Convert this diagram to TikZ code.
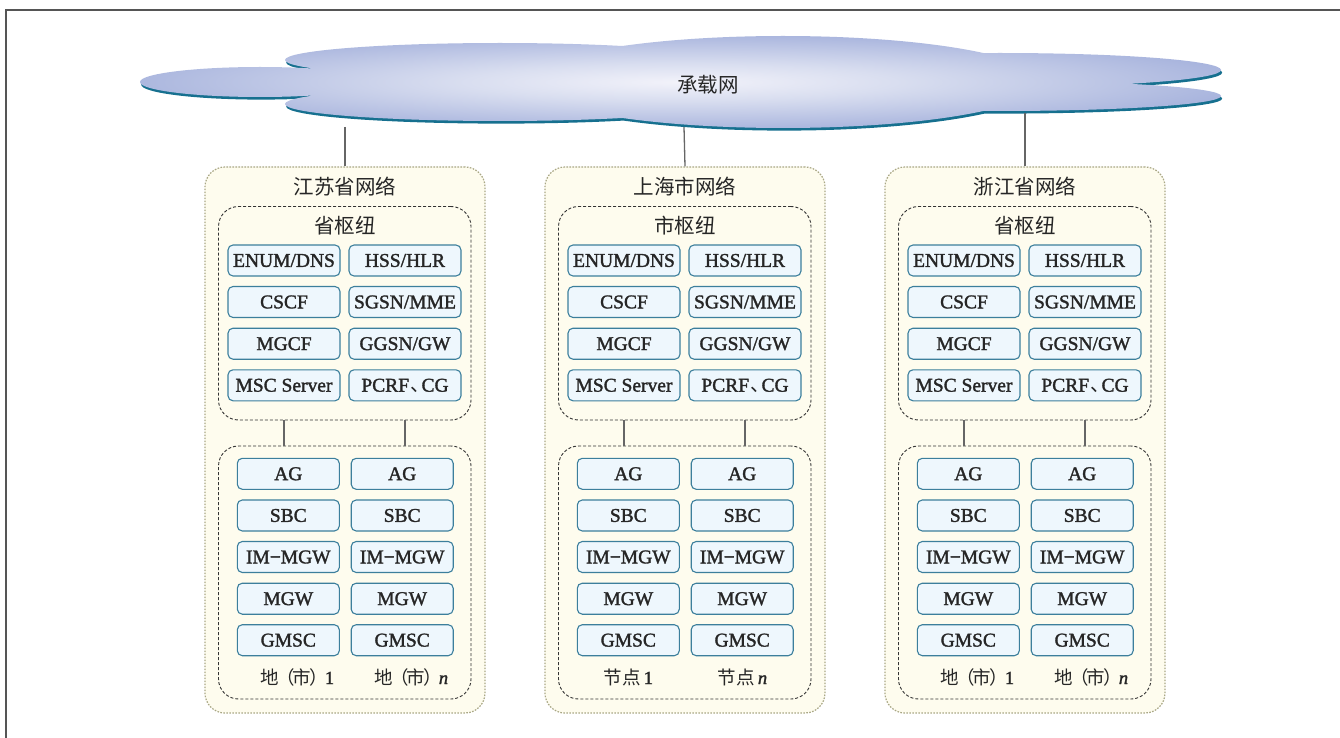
\documentclass[tikz,border=0pt]{standalone}
\usepackage{fontspec}
\setmainfont{Liberation Serif}[FakeBold=1.6]
\newfontfamily\cjk{Noto Sans CJK SC}
\definecolor{cream}{HTML}{FEFCEE}
\definecolor{outerdraw}{HTML}{A9A785}
\definecolor{innerdraw}{HTML}{333333}
\definecolor{elemfill}{HTML}{EEF7FD}
\definecolor{elemdraw}{HTML}{3C7F9C}
\definecolor{txt}{HTML}{262626}
\definecolor{cloudshadow}{HTML}{16708F}
\definecolor{framecol}{HTML}{555555}
\definecolor{conncol}{HTML}{666666}
\pgfdeclareradialshading{cloudsh}{\pgfpoint{0bp}{0bp}}{rgb(0bp)=(0.95,0.95,0.98); rgb(10bp)=(0.85,0.87,0.94); rgb(28bp)=(0.64,0.69,0.86); rgb(50bp)=(0.45,0.52,0.77); rgb(100bp)=(0.45,0.52,0.77)}
\tikzset{
  frameline/.style={draw=framecol, line width=1.4pt},
  conn/.style={draw=conncol, line width=1.3pt},
  outerbox/.style={draw=outerdraw, fill=cream, line width=1.2pt, dash pattern=on 1.6pt off 1.4pt, rounded corners=20pt, inner sep=0pt},
  innerbox/.style={draw=innerdraw, fill=cream, line width=0.9pt, dash pattern=on 3pt off 2pt, rounded corners=20pt, inner sep=0pt},
  elem/.style={draw=elemdraw, fill=elemfill, line width=1.1pt, rounded corners=5pt, inner sep=0pt, text=txt, font=\fontsize{19.5}{20}\selectfont, text height=13pt, text depth=0.3pt},
  elemA/.style={elem, minimum width=112pt, minimum height=31pt},
  elemB/.style={elem, minimum width=102pt, minimum height=31pt},
  cjklabel/.style={text=txt, font=\cjk\fontsize{20.5}{21}\selectfont, inner sep=0pt},
  sublabel/.style={text=txt, font=\fontsize{18.5}{20}\selectfont, inner sep=0pt},
}
\def\cloudpath{(260,82) ellipse [x radius=120pt, y radius=15pt]
 (500,60) ellipse [x radius=215pt, y radius=17pt]
 (500,104) ellipse [x radius=215pt, y radius=17pt]
 (450,82) ellipse [x radius=150pt, y radius=20pt]
 (783,82) ellipse [x radius=258pt, y radius=46pt]
 (1000,70) ellipse [x radius=221pt, y radius=17pt]
 (1000,96) ellipse [x radius=221pt, y radius=15pt]}
\newcommand\dishi{{\cjk 地\kern-3pt（\kern-2pt 市\kern-2pt）\kern-3pt}}
% #1 offset, #2 prefix, #3 title, #4 subtitle, #5 label1, #6 label2, #7 x label1, #8 x label2
\newcommand\provgroup[8]{%
\begin{scope}[xshift=#1pt]
  \node[outerbox, minimum width=280pt, minimum height=546pt] (#2-out) at (345,440) {};
  \node[cjklabel] (#2-title) at (345,187) {#3};
  \node[innerbox, minimum width=252.5pt, minimum height=213.5pt] (#2-top) at (344.75,313.25) {};
  \node[cjklabel] (#2-sub) at (345,226) {#4};
  \node[elemA] (#2-t11) at (284,260.5) {ENUM/DNS};
  \node[elemA] (#2-t12) at (405,260.5) {HSS/HLR};
  \node[elemA] (#2-t21) at (284,302) {CSCF};
  \node[elemA] (#2-t22) at (405,302) {SGSN/MME};
  \node[elemA] (#2-t31) at (284,343.7) {MGCF};
  \node[elemA] (#2-t32) at (405,343.7) {GGSN/GW};
  \node[elemA] (#2-t41) at (284,385.3) {MSC Server};
  \node[elemA] (#2-t42) at (405,385.3) {PCRF\kern1pt{\cjk 、}\kern-8pt CG};
  \node[innerbox, minimum width=252.5pt, minimum height=253pt] (#2-bot) at (344.75,572.5) {};
  \node[elemB] (#2-b11) at (288.3,473.8) {AG};
  \node[elemB] (#2-b12) at (402.2,473.8) {AG};
  \node[elemB] (#2-b21) at (288.3,515.5) {SBC};
  \node[elemB] (#2-b22) at (402.2,515.5) {SBC};
  \node[elemB] (#2-b31) at (288.3,557) {IM−MGW};
  \node[elemB] (#2-b32) at (402.2,557) {IM−MGW};
  \node[elemB] (#2-b41) at (288.3,598.7) {MGW};
  \node[elemB] (#2-b42) at (402.2,598.7) {MGW};
  \node[elemB] (#2-b51) at (288.3,640.2) {GMSC};
  \node[elemB] (#2-b52) at (402.2,640.2) {GMSC};
  \node[sublabel] (#2-l1) at (#7,677) {#5};
  \node[sublabel] (#2-l2) at (#8,677) {#6};
  \draw[conn] (#2-t41 |- #2-top.south) -- (#2-t41 |- #2-bot.north);
  \draw[conn] (#2-t42 |- #2-top.south) -- (#2-t42 |- #2-bot.north);
\end{scope}}
\begin{document}
\begin{tikzpicture}[x=1pt, y=-1pt]
\useasboundingbox (0,0) rectangle (1340,738);
\fill[white] (0,0) rectangle (1340,738);
% frame
\draw[frameline] (1340,10) -- (6,10) -- (6,738);
% cloud
\fill[cloudshadow, shift={(1.2,2.6)}] \cloudpath;
\shade[shading=cloudsh] \cloudpath;
\node[cjklabel] (cloud) at (708,84.5) {承载网};
\coordinate (c1) at (345,127);
\coordinate (c2) at (684,127);
\coordinate (c3) at (1025,113);
% groups
\provgroup{0}{js}{江苏省网络}{省枢纽}{\dishi 1}{\dishi\textit{n}}{297.5}{411.5}
\provgroup{340}{sh}{上海市网络}{市枢纽}{{\cjk 节点}\,1}{{\cjk 节点}\,\textit{n}}{288.3}{402.5}
\provgroup{680}{zj}{浙江省网络}{省枢纽}{\dishi 1}{\dishi\textit{n}}{297.5}{411.5}
% connectors from cloud
\draw[conn] (c1) -- (js-out.north);
\draw[conn] (c2) -- (sh-out.north);
\draw[conn] (c3) -- (zj-out.north);
\end{tikzpicture}
\end{document}
